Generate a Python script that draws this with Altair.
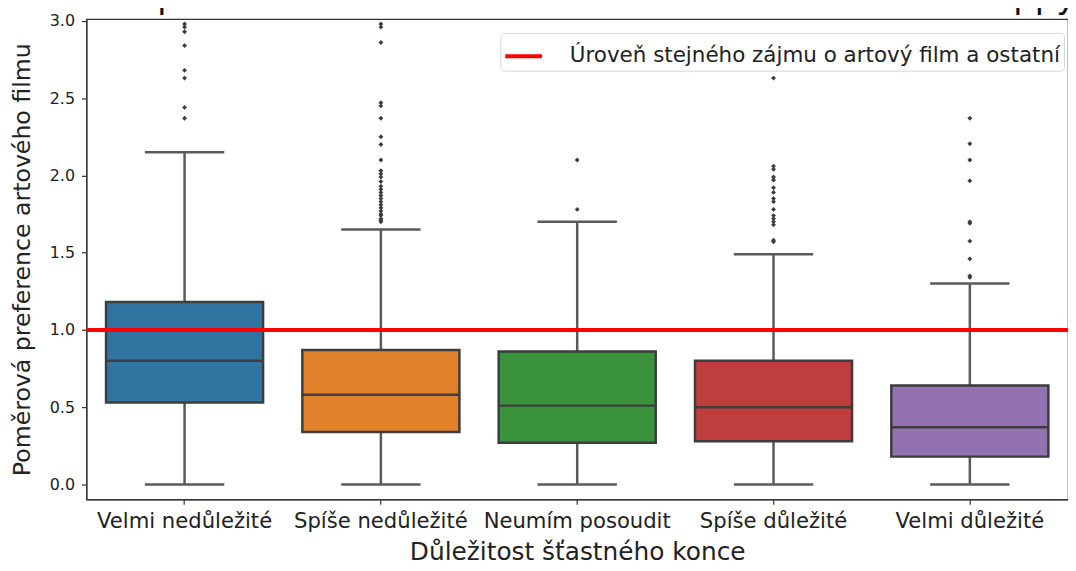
import altair as alt
import pandas as pd

# ---- data ----
categories = ["Velmi nedůležité", "Spíše nedůležité", "Neumím posoudit", "Spíše důležité", "Velmi důležité"]
whisker_low = [0.0, 0.0, 0.0, 0.0, 0.0]
q1 = [0.53, 0.34, 0.27, 0.28, 0.18]
median = [0.80, 0.58, 0.51, 0.50, 0.37]
q3 = [1.18, 0.87, 0.86, 0.80, 0.64]
whisker_high = [2.15, 1.65, 1.70, 1.49, 1.30]
box_colors = ["#3274a1", "#e1812c", "#3a923a", "#c03d3e", "#9372b2"]

outliers_1 = [2.37, 2.44, 2.63, 2.68, 2.84, 2.93, 2.96, 2.98]
outliers_2 = [1.70, 1.71, 1.72, 1.74, 1.75, 1.77, 1.79, 1.81, 1.83, 1.85, 1.87, 1.89,
              1.91, 1.93, 1.96, 1.99, 2.01, 2.03, 2.10, 2.20, 2.25, 2.37, 2.45, 2.47,
              2.86, 2.96, 2.98]
outliers_3 = [1.78, 2.10]
outliers_4 = [1.57, 1.58, 1.68, 1.70, 1.72, 1.74, 1.78, 1.83, 1.85, 1.89, 1.92, 1.97,
              1.99, 2.04, 2.06, 2.63]
outliers_5 = [1.34, 1.35, 1.46, 1.575, 1.69, 1.70, 1.965, 2.10, 2.205, 2.37]

reference_level = [1.0]
reference_label = ["Úroveň stejného zájmu o artový film a ostatní"]

title_text = ["Srovnání preference artového filmu v závislosti na oblibě happy endu"]
x_title = "Důležitost šťastného konce"
y_title = "Poměrová preference artového filmu"
y_ticks = [0.0, 0.5, 1.0, 1.5, 2.0, 2.5, 3.0]

# ---- tables ----
box_df = pd.DataFrame({
    "cat": categories, "lo": whisker_low, "q1": q1, "med": median,
    "q3": q3, "hi": whisker_high, "col": box_colors,
})
out_rows = []
for cat, vals in zip(categories, [outliers_1, outliers_2, outliers_3, outliers_4, outliers_5]):
    for v in vals:
        out_rows.append({"cat": cat, "val": v})
out_df = pd.DataFrame(out_rows)
ref_df = pd.DataFrame({"val": reference_level, "label": reference_label})
title_df = pd.DataFrame({"t": title_text})

FONT = "DejaVu Sans"
EDGE = "#3d3d3d"
WHISK = "#5a5a5a"
PLOT_W = 989
PLOT_H = 484

xscale = alt.Scale(domain=categories, paddingInner=0, paddingOuter=0)
xaxis = alt.Axis(labelFontSize=21.3, labelAngle=0, labelPadding=6, tickSize=5,
                 titleFontSize=25, titlePadding=8, titleFontWeight="normal",
                 labelLimit=400)
yscale = alt.Scale(domain=[-0.097, 3.012], nice=False, zero=False)
yaxis = alt.Axis(values=y_ticks, format=".1f", labelFontSize=16, tickSize=5,
                 labelPadding=7, titleFontSize=23.8, titlePadding=15,
                 titleFontWeight="normal")


def X():
    return alt.X("cat:N", scale=xscale, axis=xaxis, title=x_title, sort=categories)


def Y(field):
    return alt.Y(field, scale=yscale, axis=yaxis, title=y_title)


base = alt.Chart(box_df)

whiskers = base.mark_rule(color=WHISK, strokeWidth=2.5).encode(x=X(), y=Y("lo:Q"), y2="hi:Q")
cap_lo = base.mark_tick(color=WHISK, thickness=2.5, size=80, opacity=1).encode(x=X(), y=Y("lo:Q"))
cap_hi = base.mark_tick(color=WHISK, thickness=2.5, size=80, opacity=1).encode(x=X(), y=Y("hi:Q"))
boxes = base.mark_bar(width=alt.RelativeBandSize(0.8), stroke=EDGE, strokeWidth=2.5).encode(
    x=X(), y=Y("q1:Q"), y2="q3:Q", fill=alt.Fill("col:N", scale=None)
)
medians = base.mark_tick(color=EDGE, thickness=2.5, size=158, opacity=1).encode(x=X(), y=Y("med:Q"))
fliers = alt.Chart(out_df).mark_point(shape="diamond", filled=True, size=24, color=EDGE, opacity=1).encode(
    x=X(), y=Y("val:Q")
)
ref = alt.Chart(ref_df).mark_rule(strokeWidth=4).encode(
    y=Y("val:Q"),
    color=alt.Color(
        "label:N",
        scale=alt.Scale(range=["#ff0000"]),
        title=None,
        legend=alt.Legend(
            orient="none", legendX=417, legendY=14, symbolType="stroke",
            symbolSize=1369, symbolStrokeWidth=4, labelFontSize=21.6,
            labelFont=FONT, labelColor="#222", labelLimit=1000, labelOffset=26,
            padding=3, strokeColor="#d6d6d6", fillColor="white", cornerRadius=4,
        ),
    ),
)

# chart title (cut off at the top edge, as in the reference)
title_mark = alt.Chart(title_df).mark_text(
    font=FONT, fontSize=34, align="center", baseline="alphabetic", color="#111"
).encode(x=alt.value(PLOT_W / 2 + 8), y=alt.value(-11), text="t:N")

chart = alt.layer(whiskers, cap_lo, cap_hi, boxes, medians, fliers, ref, title_mark).properties(
    width=PLOT_W,
    height=PLOT_H,
    autosize="none",
    padding={"left": 79, "top": 9, "right": 0, "bottom": 70},
).configure_view(stroke="#333", strokeWidth=1.2).configure_axis(
    domainColor="#333", tickColor="#333", labelColor="#222", titleColor="#222",
    labelFont=FONT, titleFont=FONT, grid=False, domainWidth=1.2, tickWidth=1.2,
)

chart.save("out.html", embed_options={"renderer": "svg", "actions": False})
